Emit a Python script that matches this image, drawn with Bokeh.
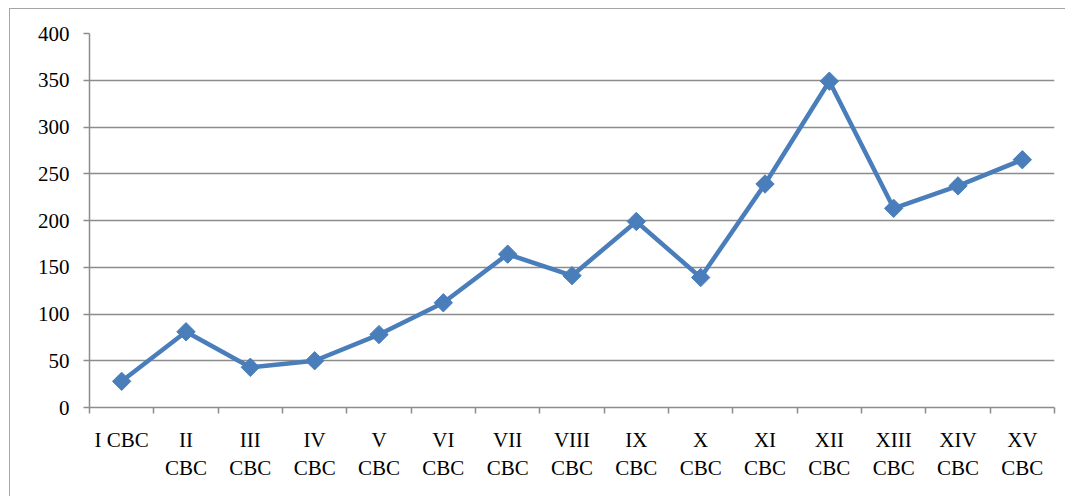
from bokeh.plotting import figure
from bokeh.models import FixedTicker, Range1d
from bokeh.embed import file_html
from bokeh.resources import INLINE

categories = ["I CBC", "II\nCBC", "III\nCBC", "IV\nCBC", "V\nCBC", "VI\nCBC", "VII\nCBC",
              "VIII\nCBC", "IX\nCBC", "X\nCBC", "XI\nCBC", "XII\nCBC", "XIII\nCBC",
              "XIV\nCBC", "XV\nCBC"]
values = [28, 81, 43, 50, 78, 112, 164, 141, 199, 139, 239, 349, 213, 237, 265]
y_ticks = [0, 50, 100, 150, 200, 250, 300, 350, 400]

n = len(categories)
xs = list(range(1, n + 1))

p = figure(width=1056, height=488, output_backend="svg", toolbar_location=None,
           x_range=Range1d(0.5, n + 0.5), y_range=Range1d(0, 400),
           min_border_left=79, min_border_right=12, min_border_top=24, min_border_bottom=90)
p.styles = {"border-left": "1.5px solid #a6a6a6", "border-top": "1.5px solid #a6a6a6",
            "margin-left": "9px", "margin-top": "8px"}
p.outline_line_color = None
p.background_fill_color = "white"
p.border_fill_color = "white"

grey = "#8c8c8c"
font = "Liberation Serif"

p.xaxis.ticker = FixedTicker(ticks=xs, minor_ticks=[i + 0.5 for i in range(0, n + 1)])
p.xaxis.major_label_overrides = {i + 1: c for i, c in enumerate(categories)}
p.xaxis.major_tick_line_color = None
p.xaxis.minor_tick_line_color = grey
p.xaxis.minor_tick_line_width = 1.5
p.xaxis.minor_tick_out = 6
p.xaxis.minor_tick_in = 0
p.xaxis.axis_line_color = grey
p.xaxis.axis_line_width = 1.5
p.xaxis.major_label_standoff = 14
p.xaxis.major_label_text_font = font
p.xaxis.major_label_text_font_size = "21px"
p.xaxis.major_label_text_color = "black"
p.xaxis.major_label_text_line_height = 1.17
p.xgrid.grid_line_color = None

p.yaxis.ticker = FixedTicker(ticks=y_ticks, minor_ticks=[])
p.yaxis.major_tick_line_color = grey
p.yaxis.major_tick_line_width = 1.5
p.yaxis.major_tick_out = 6
p.yaxis.major_tick_in = 0
p.yaxis.axis_line_color = grey
p.yaxis.axis_line_width = 1.5
p.yaxis.major_label_standoff = 14
p.yaxis.major_label_text_font = font
p.yaxis.major_label_text_font_size = "21px"
p.yaxis.major_label_text_color = "black"
p.ygrid.grid_line_color = grey
p.ygrid.grid_line_width = 1.5

p.line(xs, values, line_color="#4a7ebb", line_width=4.5)
p.scatter(xs, values, marker="square", angle=0.7854, size=13,
          fill_color="#4a7ebb", line_color="#4a7ebb")

open("out.html", "w").write(file_html(p, INLINE))
